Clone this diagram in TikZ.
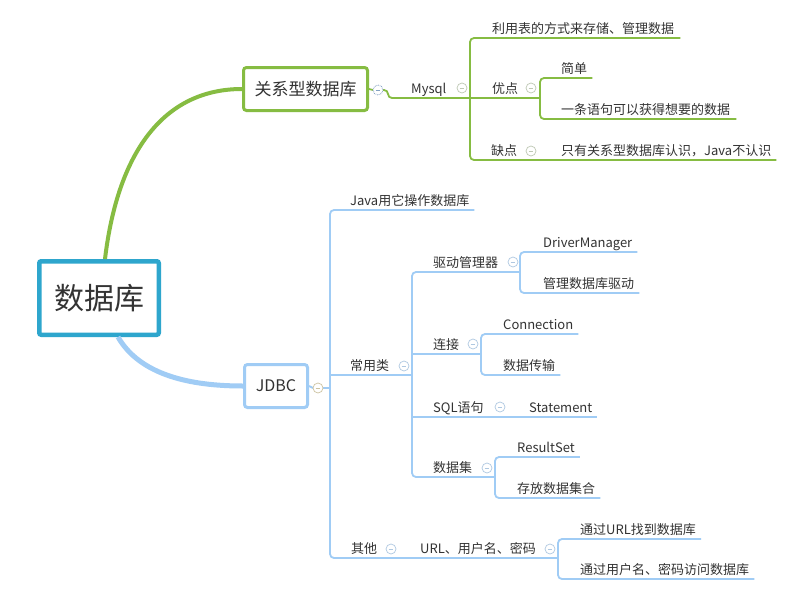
\documentclass[tikz,border=0pt]{standalone}
\usepackage{fontspec}
\setmainfont{Noto Sans CJK SC}
\usetikzlibrary{calc}
\definecolor{grn}{RGB}{134,188,66}
\definecolor{lblue}{RGB}{160,204,245}
\definecolor{rootc}{RGB}{46,166,205}
\definecolor{txt}{RGB}{51,51,51}
\definecolor{togg}{RGB}{190,200,180}
\definecolor{togb}{RGB}{175,200,225}
\definecolor{togd}{RGB}{130,160,195}
\definecolor{togy}{RGB}{205,195,160}
\tikzset{
  leaf/.style={anchor=south west, inner xsep=0pt, inner ysep=2.5pt, text height=11pt, text depth=2pt,
    font=\fontsize{13}{15}\selectfont, text=txt},
  gline/.style={draw=grn, line width=1.8pt, rounded corners=4pt},
  bline/.style={draw=lblue, line width=1.8pt, rounded corners=4pt},
  tog/.style={circle, draw=#1, line width=0.7pt, minimum size=10pt, inner sep=0pt, fill=white,
    path picture={\draw[#1, solid, line width=0.7pt] ([xshift=-2.3pt]path picture bounding box.center) -- ([xshift=2.3pt]path picture bounding box.center);}},
  mainbox/.style={draw=#1, line width=3pt, rounded corners=3pt, fill=white, text=txt, inner sep=0pt},
}
\begin{document}
\begin{tikzpicture}[x=1pt,y=-1pt]
\fill[white] (0,0) rectangle (803,603);
\useasboundingbox (0,0) rectangle (803,603);

% bracket x positions
\coordinate (b1) at (470,0);
\coordinate (sb) at (540,0);
\coordinate (mb) at (330,0);
\coordinate (sb2) at (412,0);
\coordinate (d1) at (520,0);
\coordinate (d2) at (481,0);
\coordinate (d4) at (495,0);
\coordinate (ub) at (558,0);

% main boxes
\node[mainbox=rootc, line width=4.5pt, rounded corners=2pt, minimum width=119.5pt, minimum height=73.5pt,
  font=\fontsize{30}{34}\selectfont] (root) at (99,298) {数据库};
\node[mainbox=grn, minimum width=124pt, minimum height=43pt, font=\fontsize{17}{20}\selectfont] (rel) at (305.5,89) {关系型数据库};
\node[mainbox=lblue, minimum width=63pt, minimum height=43pt, font=\fontsize{16}{19}\selectfont] (jdbc) at (276,386) {JDBC};

% curves from root
\draw[grn, line width=4pt] ([xshift=6pt]root.north) .. controls (118,150) and (165,89) .. (rel.west);
\draw[lblue, line width=5pt] ([xshift=19pt]root.south) .. controls (140,375) and (190,386) .. (jdbc.west);

% ---------- green part ----------
\node[leaf] (mysql) at (411,98) {Mysql};
\node[leaf] (na) at (492,38) {利用表的方式来存储、管理数据};
\node[leaf] (yd) at (492,98) {优点};
\node[leaf] (jd) at (561,78) {简单};
\node[leaf] (yt) at (561,119) {一条语句可以获得想要的数据};
\node[leaf] (qd) at (491,160) {缺点};
\node[leaf] (zy) at (561,160) {只有关系型数据库认识，Java不认识};
\coordinate (t0w) at (373,90);
\coordinate (t0e) at (383,90);

\draw[gline] (rel.east) -- (t0w);
\draw[gline] (t0e) -- ++(5,0) |- (yd.south -| sb);
\draw[gline] ([xshift=6pt]na.south east) -- (na.south -| b1) -- (qd.south -| b1) -- ([xshift=5pt]zy.south east);
\draw[gline] ([xshift=5pt]jd.south east) -- (jd.south -| sb) -- (yt.south -| sb) -- ([xshift=6pt]yt.south east);

\node[tog=togd, densely dotted, line width=0.9pt] (t0) at (378,90) {};
\node[tog=togg] (tm) at (462,88) {};
\node[tog=togg] (ty) at (531,88) {};
\node[tog=togg] (tq) at (531,151) {};

% ---------- blue part ----------
\node[leaf] (java) at (350,210) {Java用它操作数据库};
\node[leaf] (cyl) at (350,375) {常用类};
\node[leaf] (qdg) at (433,272) {驱动管理器};
\node[leaf] (dm) at (543,252) {DriverManager};
\node[leaf] (gl) at (543,293) {管理数据库驱动};
\node[leaf] (lj) at (433,354) {连接};
\node[leaf] (conn) at (503,334) {Connection};
\node[leaf] (sjcs) at (503,375) {数据传输};
\node[leaf] (sql) at (433,417) {SQL语句};
\node[leaf] (stm) at (529,417) {Statement};
\node[leaf] (sjj) at (433,477) {数据集};
\node[leaf] (rs) at (517,457) {ResultSet};
\node[leaf] (cf) at (517,498) {存放数据集合};
\node[leaf] (qt) at (351,558) {其他};
\node[leaf] (url) at (420,558) {URL、用户名、密码};
\node[leaf] (tu) at (580,539) {通过URL找到数据库};
\node[leaf] (tp) at (580,579) {通过用户名、密码访问数据库};
\coordinate (tjw) at (313,388);
\coordinate (tje) at (323,388);

\draw[bline] (jdbc.east) -- (tjw);
\draw[bline] (tje) -- (tje -| mb);
\draw[bline] ([xshift=5pt]java.south east) -- (java.south -| mb) -- (qt.south -| mb) -- (qt.south -| ub);
\draw[bline] (cyl.south -| mb) -- (cyl.south -| sb2);
\draw[bline] (qdg.south -| d1) -- (qdg.south -| sb2) -- (sjj.south -| sb2) -- (sjj.south -| d4);
\draw[bline] (lj.south -| sb2) -- (lj.south -| d2);
\draw[bline] (sql.south -| sb2) -- ([xshift=5pt]stm.south east);
\draw[bline] ([xshift=5pt]dm.south east) -- (dm.south -| d1) -- (gl.south -| d1) -- ([xshift=5pt]gl.south east);
\draw[bline] ([xshift=5pt]conn.south east) -- (conn.south -| d2) -- (sjcs.south -| d2) -- ([xshift=5pt]sjcs.south east);
\draw[bline] ([xshift=5pt]rs.south east) -- (rs.south -| d4) -- (cf.south -| d4) -- ([xshift=5pt]cf.south east);
\draw[bline] ([xshift=5pt]tu.south east) -- (tu.south -| ub) -- (tp.south -| ub) -- ([xshift=5pt]tp.south east);

\node[tog=togy] (tj) at (318,388) {};
\node[tog=togb] (tc) at (404,366) {};
\node[tog=togb] (tqd) at (513,262) {};
\node[tog=togb] (tl) at (473,344) {};
\node[tog=togb] (ts) at (500,407) {};
\node[tog=togb] (tsj) at (487,468) {};
\node[tog=togb] (tqt) at (391,549) {};
\node[tog=togb] (turl) at (550,549) {};
\end{tikzpicture}
\end{document}
